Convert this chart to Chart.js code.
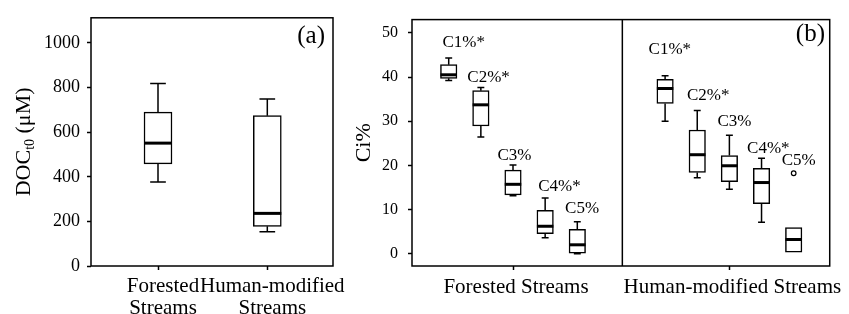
<!DOCTYPE html>
<html>
<head>
<meta charset="utf-8">
<title>DOC and Ci% box plots</title>
<script src="https://cdn.jsdelivr.net/npm/chart.js@4.4.1/dist/chart.umd.min.js"></script>
<style>
  body { margin: 0; background: #fff; }
  #fig { position: relative; width: 849px; height: 314px; overflow: hidden; }
  #fig canvas { position: absolute; top: 0; }
  #chartA { left: 0; }
  #chartB { left: 345px; }
</style>
</head>
<body>
<div id="fig">
  <canvas id="chartA" width="375" height="314"></canvas>
  <canvas id="chartB" width="504" height="314"></canvas>
</div>
<script>
// ---- data ----
const streamTypes = ['Forested Streams', 'Human-modified Streams'];

// (a) DOC_t0 (uM)
const docTicks = [0, 200, 400, 600, 800, 1000];
const docMin = [377, 154];
const docQ1 = [458, 178];
const docMedian = [551, 236];
const docQ3 = [690, 674];
const docMax = [818, 749];

// (b) Ci% per component
const components = ['C1%*', 'C2%*', 'C3%', 'C4%*', 'C5%'];
const ciTicks = [0, 10, 20, 30, 40, 50];
const forestMin = [39.2, 26.4, 13.1, 3.6, 0.0];
const forestQ1 = [39.7, 28.9, 13.3, 4.5, 0.1];
const forestMedian = [40.5, 33.7, 15.7, 6.2, 2.0];
const forestQ3 = [42.8, 36.9, 18.9, 9.8, 5.5];
const forestMax = [44.3, 37.6, 20.1, 12.6, 7.2];
const humanMin = [30.0, 17.2, 14.6, 7.1, 0.35];
const humanQ1 = [34.0, 18.4, 16.3, 11.3, 0.35];
const humanMedian = [37.4, 22.4, 19.9, 16.1, 3.2];
const humanQ3 = [39.5, 28.0, 22.2, 19.3, 5.9];
const humanMax = [40.3, 32.4, 26.8, 21.6, 5.9];
const humanOutlier = [null, null, null, null, 18.2];

// ---- layout ----
const serif = 'Liberation Serif';
Chart.defaults.font.family = serif;
Chart.defaults.color = '#000';

const groupCenters = [0, 6.731];   // x position of each stream group in panel (b)
const dividerAt = 3.401;
// label nudges [dx, gap above top] in px, per box in panel (b)
const labelNudge = [
  [15, 10.7], [7.7, 6.1], [1.5, 4.7], [14.3, 7.4], [4.8, 8.4],
  [4.7, 21.8], [11, 10.7], [5, 9.4], [6.8, 5.7], [5, 8.4]
];

function stats(min, q1, med, q3, max) {
  return min.map((v, i) => ({ min: v, q1: q1[i], med: med[i], q3: q3[i], max: max[i] }));
}

const boxPlot = {
  id: 'boxPlot',
  afterDatasetsDraw(chart, args, o) {
    const ctx = chart.ctx, y = chart.scales.y;
    const bars = chart.getDatasetMeta(0).data;
    const py = v => y.getPixelForValue(v);
    ctx.save();
    ctx.strokeStyle = '#000';
    bars.forEach((bar, i) => {
      const s = o.stats[i];
      const half = bar.width / 2, cap = bar.width * o.cap / 2;
      ctx.lineWidth = 1.5;
      ctx.beginPath();
      if (s.max > s.q3) {
        ctx.moveTo(bar.x, py(s.q3)); ctx.lineTo(bar.x, py(s.max));
        ctx.moveTo(bar.x - cap, py(s.max)); ctx.lineTo(bar.x + cap, py(s.max));
      }
      if (s.min < s.q1) {
        ctx.moveTo(bar.x, py(s.q1)); ctx.lineTo(bar.x, py(s.min));
        ctx.moveTo(bar.x - cap, py(s.min)); ctx.lineTo(bar.x + cap, py(s.min));
      }
      ctx.stroke();
      ctx.lineWidth = 3;
      ctx.beginPath();
      ctx.moveTo(bar.x - half, py(s.med)); ctx.lineTo(bar.x + half, py(s.med));
      ctx.stroke();
    });
    ctx.restore();
  }
};

function drawYTitle(ctx, cx, cy, parts) {
  ctx.save();
  let total = 0;
  parts.forEach(p => { ctx.font = p.size + 'px "' + serif + '"'; p.w = ctx.measureText(p.t).width; total += p.w; });
  ctx.translate(cx, cy);
  ctx.rotate(-Math.PI / 2);
  ctx.fillStyle = '#000';
  ctx.textBaseline = 'alphabetic';
  ctx.textAlign = 'left';
  let x = -total / 2;
  parts.forEach(p => {
    ctx.font = p.size + 'px "' + serif + '"';
    ctx.fillText(p.t, x, 7.3 + p.dy);
    x += p.w;
  });
  ctx.restore();
}

const decor = {
  id: 'decor',
  afterDraw(chart, args, o) {
    const ctx = chart.ctx, a = chart.chartArea;
    ctx.save();
    ctx.strokeStyle = '#000';
    ctx.lineWidth = 1.5;
    ctx.strokeRect(a.left, a.top, a.right - a.left, a.bottom - a.top);
    if (o.divider != null) {
      const dx = chart.scales.x.getPixelForValue(o.divider);
      ctx.beginPath(); ctx.moveTo(dx, a.top); ctx.lineTo(dx, a.bottom); ctx.stroke();
    }
    ctx.fillStyle = '#000';
    ctx.font = '25px "' + serif + '"';
    ctx.textAlign = 'right';
    ctx.textBaseline = 'middle';
    ctx.fillText(o.panel, a.right - o.panelInset, o.panelY);
    drawYTitle(ctx, o.titleX, (a.top + a.bottom) / 2, o.title);
    if (o.labels) {
      const y = chart.scales.y;
      const bars = chart.getDatasetMeta(0).data;
      ctx.font = '17px "' + serif + '"';
      ctx.textAlign = 'center';
      ctx.textBaseline = 'alphabetic';
      bars.forEach((bar, i) => {
        const s = o.stats[i];
        const top = Math.max(s.max, o.outliers[i] == null ? -Infinity : o.outliers[i]);
        const n = labelNudge[i];
        ctx.fillText(o.labels[i], bar.x + n[0], y.getPixelForValue(top) - n[1]);
      });
    }
    ctx.restore();
  }
};

function axisStyle() {
  return {
    offset: false,
    grid: { offset: false, drawOnChartArea: false, drawTicks: true, tickLength: 4, tickColor: '#000', tickWidth: 1.5 },
    border: { display: false }
  };
}

// ---- panel (a) ----
const statsA = stats(docMin, docQ1, docMedian, docQ3, docMax);
new Chart(document.getElementById('chartA'), {
  type: 'bar',
  data: {
    datasets: [{
      data: streamTypes.map((s, i) => ({ x: i + 1, y: [docQ1[i], docQ3[i]] })),
      backgroundColor: '#fff',
      borderColor: '#000',
      borderWidth: 1.5,
      borderSkipped: false,
      barThickness: 28
    }]
  },
  options: {
    responsive: false,
    animation: false,
    layout: { padding: { top: 13, right: 42, left: 0, bottom: 0 } },
    plugins: {
      legend: { display: false },
      tooltip: { enabled: false },
      boxPlot: { stats: statsA, cap: 0.56 },
      decor: {
        panel: '(a)', panelInset: 8, panelY: 36.5, titleX: 23,
        title: [{ t: 'DOC', size: 22, dy: 0 }, { t: 't0', size: 14, dy: 4 }, { t: ' (\u03bcM)', size: 22, dy: 0 }]
      }
    },
    scales: {
      x: Object.assign(axisStyle(), {
        type: 'linear', min: 0.387, max: 2.601,
        afterBuildTicks: s => { s.ticks = streamTypes.map((t, i) => ({ value: i + 1 })); },
        afterFit: s => { s.height = 48; },
        ticks: {
          autoSkip: false, maxRotation: 0, padding: 6, labelOffset: 5,
          font: { size: 21, lineHeight: 1.03 },
          callback: v => streamTypes[Math.round(v) - 1].split(' ')
        }
      }),
      y: Object.assign(axisStyle(), {
        min: 0, max: 1113,
        afterBuildTicks: s => { s.ticks = docTicks.map(v => ({ value: v })); },
        afterFit: s => { s.width = 91; },
        ticks: { padding: 7, font: { size: 18 }, callback: v => String(v) }
      })
    }
  },
  plugins: [boxPlot, decor]
});

// ---- panel (b) ----
const statsB = stats(forestMin, forestQ1, forestMedian, forestQ3, forestMax)
  .concat(stats(humanMin, humanQ1, humanMedian, humanQ3, humanMax));
const outliersB = components.map(() => null).concat(humanOutlier);
const boxX = [];
groupCenters.forEach(c => components.forEach((k, i) => boxX.push(c + i - 2)));

new Chart(document.getElementById('chartB'), {
  type: 'bar',
  data: {
    datasets: [{
      data: statsB.map((s, i) => ({ x: boxX[i], y: [s.q1, s.q3] })),
      backgroundColor: '#fff',
      borderColor: '#000',
      borderWidth: 1.5,
      borderSkipped: false,
      barThickness: 16.5
    }, {
      type: 'scatter',
      data: outliersB.map((v, i) => v == null ? null : { x: boxX[i], y: v }).filter(p => p),
      pointStyle: 'circle',
      pointRadius: 2.3,
      borderWidth: 1.2,
      borderColor: '#000',
      backgroundColor: '#fff'
    }]
  },
  options: {
    responsive: false,
    animation: false,
    layout: { padding: { top: 13, right: 16, left: 0, bottom: 0 } },
    plugins: {
      legend: { display: false },
      tooltip: { enabled: false },
      boxPlot: { stats: statsB, cap: 0.42 },
      decor: {
        panel: '(b)', panelInset: 4.7, panelY: 34.5, titleX: 18, divider: dividerAt,
        title: [{ t: 'Ci%', size: 22, dy: 0 }],
        labels: components.concat(components), stats: statsB, outliers: outliersB
      }
    },
    scales: {
      x: Object.assign(axisStyle(), {
        type: 'linear', min: -3.142, max: 9.852,
        afterBuildTicks: s => { s.ticks = groupCenters.map(v => ({ value: v })); },
        afterFit: s => { s.height = 48; },
        ticks: {
          autoSkip: false, maxRotation: 0, padding: 7, labelOffset: 3,
          font: { size: 21, lineHeight: 1.03 },
          callback: (v, i) => streamTypes[i]
        }
      }),
      y: Object.assign(axisStyle(), {
        min: -2.8, max: 53,
        afterBuildTicks: s => { s.ticks = ciTicks.map(v => ({ value: v })); },
        afterFit: s => { s.width = 67; },
        ticks: { padding: 10, font: { size: 16 }, callback: v => String(v) }
      })
    }
  },
  plugins: [boxPlot, decor]
});
</script>
</body>
</html>
